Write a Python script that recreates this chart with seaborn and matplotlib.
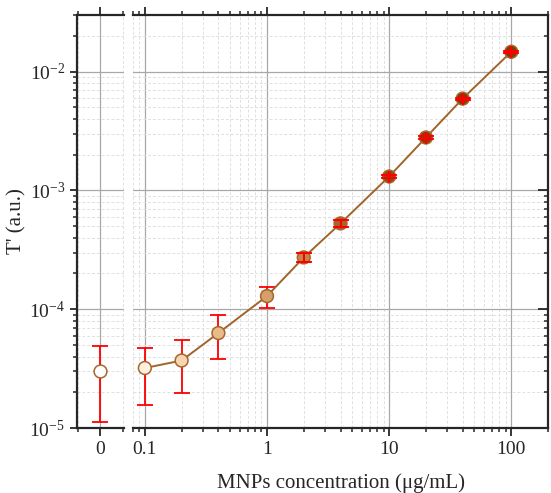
import numpy as np
import matplotlib
matplotlib.use("Agg")
import matplotlib.pyplot as plt
import matplotlib.ticker as mticker
import seaborn as sns

# concentration 0 is drawn on its own little axis
zero_y = [3.0e-5]
zero_lo = [1.12e-5]
zero_hi = [4.9e-5]

conc = [0.1, 0.2, 0.4, 1, 2, 4, 10, 20, 40, 100]
gamma = [3.2e-5, 3.7e-5, 6.3e-5, 1.29e-4, 2.73e-4, 5.28e-4, 1.31e-3, 2.79e-3, 5.93e-3, 1.47e-2]
gamma_lo = [1.56e-5, 1.97e-5, 3.8e-5, 1.02e-4, 2.5e-4, 4.93e-4, 1.28e-3, 2.73e-3, 5.8e-3, 1.44e-2]
gamma_hi = [4.7e-5, 5.5e-5, 8.9e-5, 1.55e-4, 2.97e-4, 5.63e-4, 1.34e-3, 2.85e-3, 6.06e-3, 1.50e-2]

zero_color = ["#ffffff"]
fill_colors = ["#fdf0e0", "#f6d6b2", "#e9ba8a", "#d4a06c", "#c0874e",
               "#a4662e", "#8a4c14", "#7e420c", "#7a3f08", "#783e06"]

sns.set_style("ticks")
plt.rcParams["font.family"] = ["Liberation Serif", "DejaVu Serif"]
plt.rcParams["mathtext.fontset"] = "custom"
plt.rcParams["mathtext.rm"] = "Liberation Serif"
plt.rcParams["mathtext.it"] = "Liberation Serif:italic"

fig = plt.figure(figsize=(5.51, 4.93), dpi=100)
ax0 = fig.add_axes([0.1397, 0.1318, 0.0853, 0.8378])
ax1 = fig.add_axes([0.2414, 0.1318, 0.7532, 0.8378])

edge = "#a8662a"
red = "#ff0000"
ylim = (1e-5, 3e-2)


def style_y(ax):
    ax.set_yscale("log")
    ax.set_ylim(*ylim)
    ax.yaxis.set_major_locator(mticker.LogLocator(base=10, numticks=10))
    ax.yaxis.set_minor_locator(mticker.LogLocator(base=10, subs=np.arange(2, 10), numticks=10))
    ax.grid(which="major", color="#a8a8a8", lw=0.9, ls="-")
    ax.grid(which="minor", color="#e0e0e0", lw=0.7, ls=(0, (3, 2)))
    ax.set_axisbelow(True)
    ax.tick_params(which="major", length=5, width=1.3, labelsize=14)
    ax.tick_params(which="minor", length=3, width=1.1)


# ---- zero axis ----
ax0.errorbar(0, zero_y, yerr=[np.subtract(zero_y, zero_lo), np.subtract(zero_hi, zero_y)],
             fmt="none", ecolor=red, elinewidth=1.3, capsize=6, capthick=1.3, zorder=2)
sns.scatterplot(x=[0], y=zero_y, hue=[0], palette=zero_color, s=85, edgecolor=edge,
                linewidth=1.1, legend=False, ax=ax0, zorder=3)
style_y(ax0)
ax0.set_xlim(-1, 1)
ax0.set_xticks([0])
ax0.set_xticks([-0.97, 0.97], minor=True)
ax0.yaxis.set_major_formatter(mticker.LogFormatterSciNotation())
ax0.tick_params(axis="both", which="both", direction="out", top=True, bottom=True, left=True, right=False)
ax0.tick_params(axis="x", which="major", length=6)
for s in ["left", "bottom", "top"]:
    ax0.spines[s].set_linewidth(1.6)
ax0.spines["right"].set_visible(False)
ax0.set_ylabel("T' (a.u.)", fontsize=15, labelpad=2)

# ---- log concentration axis ----
c = np.array(conc)
g = np.array(gamma)
sns.lineplot(x=c, y=g, color="#a0642a", lw=1.4, ax=ax1, zorder=2.5)
ax1.errorbar(c, g, yerr=[g - np.array(gamma_lo), np.array(gamma_hi) - g],
             fmt="none", ecolor=red, elinewidth=1.3, capsize=6, capthick=1.3, zorder=2)
sns.scatterplot(x=c, y=g, hue=np.arange(len(c)), palette=fill_colors, s=85,
                edgecolor=edge, linewidth=1.1, legend=False, ax=ax1, zorder=3)
big = c >= 2
ax1.errorbar(c[big], g[big], yerr=[g[big] - np.array(gamma_lo)[big], np.array(gamma_hi)[big] - g[big]],
             fmt="none", ecolor=red, elinewidth=1.5, capsize=5, capthick=1.5, zorder=4)
ax1.errorbar(c[c >= 10], g[c >= 10], yerr=g[c >= 10] * 0.11, fmt="none", ecolor=red,
             elinewidth=1.6, capsize=0, zorder=4)

ax1.set_xscale("log")
ax1.set_xlim(0.08, 200)
style_y(ax1)
ax1.xaxis.set_major_locator(mticker.FixedLocator([0.1, 1, 10, 100]))
ax1.xaxis.set_minor_locator(mticker.LogLocator(base=10, subs=np.arange(2, 10), numticks=10))
ax1.xaxis.set_major_formatter(mticker.FuncFormatter(lambda v, p: f"{v:g}"))
ax1.xaxis.set_minor_formatter(mticker.NullFormatter())
ax1.grid(which="major", axis="x", color="#a8a8a8", lw=0.9)
ax1.tick_params(axis="x", which="both", direction="out", top=True, bottom=True)
ax1.tick_params(axis="x", which="major", length=6)
ax1.tick_params(axis="y", which="both", direction="in", left=False, right=True, labelleft=False)
ax1.tick_params(axis="y", which="major", length=7)
for s in ["right", "bottom", "top"]:
    ax1.spines[s].set_linewidth(1.6)
ax1.spines["left"].set_visible(False)
ax1.set_xlabel("MNPs concentration (μg/mL)", fontsize=15, labelpad=11)

fig.savefig("out.png", dpi=100)
